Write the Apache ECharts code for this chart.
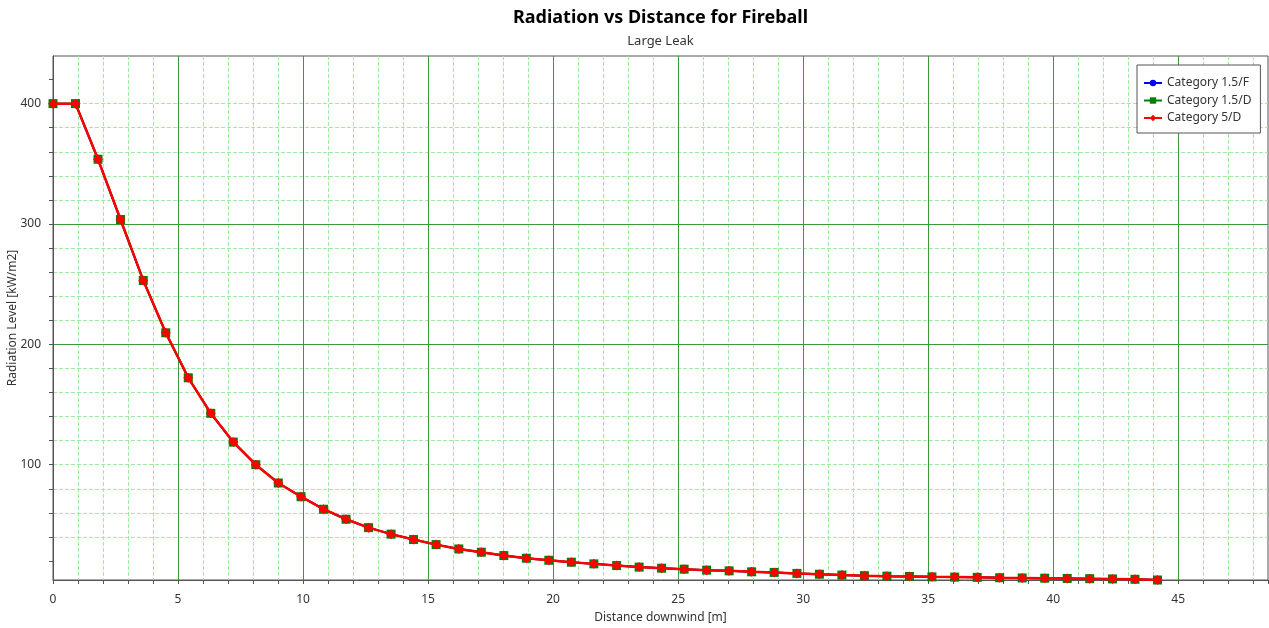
<!DOCTYPE html>
<html>
<head>
<meta charset="utf-8">
<script src="https://cdn.jsdelivr.net/npm/echarts@6/dist/echarts.min.js"></script>
<style>
html,body{margin:0;padding:0;background:#fff;}
#c{width:1269px;height:628px;}
</style>
</head>
<body>
<div id="c"></div>
<script>
// ---- data ----
const distance = [0, 0.90, 1.80, 2.70, 3.61, 4.51, 5.41, 6.31, 7.21, 8.11,
  9.01, 9.92, 10.82, 11.72, 12.62, 13.52, 14.42, 15.32, 16.23, 17.13,
  18.03, 18.93, 19.83, 20.73, 21.63, 22.54, 23.44, 24.34, 25.24, 26.14,
  27.04, 27.94, 28.84, 29.75, 30.65, 31.55, 32.45, 33.35, 34.25, 35.15,
  36.06, 36.96, 37.86, 38.76, 39.66, 40.56, 41.46, 42.37, 43.27, 44.17];
const radiation = [400, 400, 353.8, 303.7, 253.1, 209.6, 172.2, 142.7, 118.8, 100.0,
  84.8, 73.4, 63.0, 54.7, 47.7, 42.3, 37.8, 33.6, 30.0, 27.3,
  24.5, 22.3, 20.6, 19.0, 17.6, 16.2, 14.9, 14.0, 13.2, 12.4,
  11.8, 11.0, 10.5, 9.7, 9.0, 8.3, 7.8, 7.4, 7.1, 6.8,
  6.6, 6.4, 6.1, 5.9, 5.7, 5.5, 5.3, 5.1, 4.8, 4.2];
const seriesNames = ['Category 1.5/F', 'Category 1.5/D', 'Category 5/D'];
const seriesColors = ['#0000ff', '#008000', '#ff0000'];
const seriesSymbols = ['circle', 'rect', 'diamond'];
const yMajorTicks = [100, 200, 300, 400];
const yMinorTicks = [20, 40, 60, 80, 100, 120, 140, 160, 180, 200, 220, 240, 260, 280, 300, 320, 340, 360, 380, 400, 420];
const titleText = 'Radiation vs Distance for Fireball';
const subtitleText = 'Large Leak';
const xAxisName = 'Distance downwind [m]';
const yAxisName = 'Radiation Level [kW/m2]';

const FONT = '"Noto Sans", sans-serif';
const pts = distance.map((d, i) => [d, radiation[i]]);
const yMin = Math.min(...radiation);
const yMax = 400 + 0.1 * (400 - yMin);
const xMax = 48.59;

const majorLine = {show: true, lineStyle: {color: '#3a9a3a', width: 1, type: 'solid'}, showMinLine: false, showMaxLine: false};
const minorLine = {show: true, lineStyle: {color: '#a2eaa2', width: 1, type: [4, 2]}, showMinLine: false, showMaxLine: false};
const labelStyle = {color: '#333', fontSize: 12, fontFamily: FONT};

const chart = echarts.init(document.getElementById('c'), null, {renderer: 'canvas'});
chart.setOption({
  animation: false,
  backgroundColor: '#fff',
  textStyle: {fontFamily: FONT},
  grid: {left: 53, top: 56, right: 1, bottom: 48, show: true, borderColor: '#555', borderWidth: 1,
         backgroundColor: 'transparent', containLabel: false, outerBoundsMode: 'none'},
  graphic: [
    {type: 'text', x: 660.5, y: 18, style: {text: titleText, font: 'bold 18px "Noto Sans", sans-serif', fill: '#000', textAlign: 'center', textVerticalAlign: 'middle'}},
    {type: 'text', x: 660.5, y: 41, style: {text: subtitleText, font: '13px "Noto Sans", sans-serif', fill: '#333', textAlign: 'center', textVerticalAlign: 'middle'}}
  ],
  legend: {
    show: true, orient: 'vertical', left: 1137, top: 65,
    backgroundColor: '#fff', borderColor: '#555', borderWidth: 1, borderRadius: 0,
    padding: [11, 9, 8, 6], itemGap: 3.5, itemWidth: 18, itemHeight: 8,
    textStyle: {color: '#333', fontSize: 12, fontFamily: FONT, lineHeight: 14},
    data: seriesNames
  },
  xAxis: [
    {type: 'value', min: 0, max: xMax, interval: 5, position: 'bottom', z: 1,
     axisLine: {show: true, lineStyle: {color: '#555', width: 1}}, axisTick: {show: false},
     axisLabel: Object.assign({margin: 14, showMaxLabel: false}, labelStyle),
     splitLine: majorLine,
     name: xAxisName, nameLocation: 'middle', nameGap: 32, nameMoveOverlap: false, nameTextStyle: labelStyle},
    {type: 'value', min: 0, max: xMax, interval: 1, position: 'bottom', z: 0,
     axisLine: {show: false}, axisTick: {show: true, length: 4, lineStyle: {color: '#555'}},
     axisLabel: {show: false}, splitLine: minorLine}
  ],
  yAxis: [
    {type: 'value', min: yMin, max: yMax, position: 'left', z: 1,
     axisLine: {show: true, lineStyle: {color: '#555', width: 1}},
     axisTick: {show: false, customValues: yMajorTicks},
     axisLabel: Object.assign({margin: 12, customValues: yMajorTicks}, labelStyle),
     splitLine: majorLine,
     name: yAxisName, nameLocation: 'middle', nameGap: 34, nameMoveOverlap: false, nameTextStyle: labelStyle},
    {type: 'value', min: yMin, max: yMax, position: 'left', z: 0,
     axisLine: {show: false},
     axisTick: {show: true, length: 4, lineStyle: {color: '#555'}, customValues: yMinorTicks},
     axisLabel: {show: false}, splitLine: minorLine}
  ],
  series: seriesNames.map((name, i) => ({
    name: name, type: 'line', xAxisIndex: 0, yAxisIndex: 0,
    data: pts, symbol: seriesSymbols[i], symbolSize: [7, 9, 10][i], showSymbol: true,
    lineStyle: {color: seriesColors[i], width: i === 2 ? 2.5 : 2},
    itemStyle: {color: seriesColors[i]},
    emphasis: {disabled: true}, z: 2 + i
  }))
});
</script>
</body>
</html>
